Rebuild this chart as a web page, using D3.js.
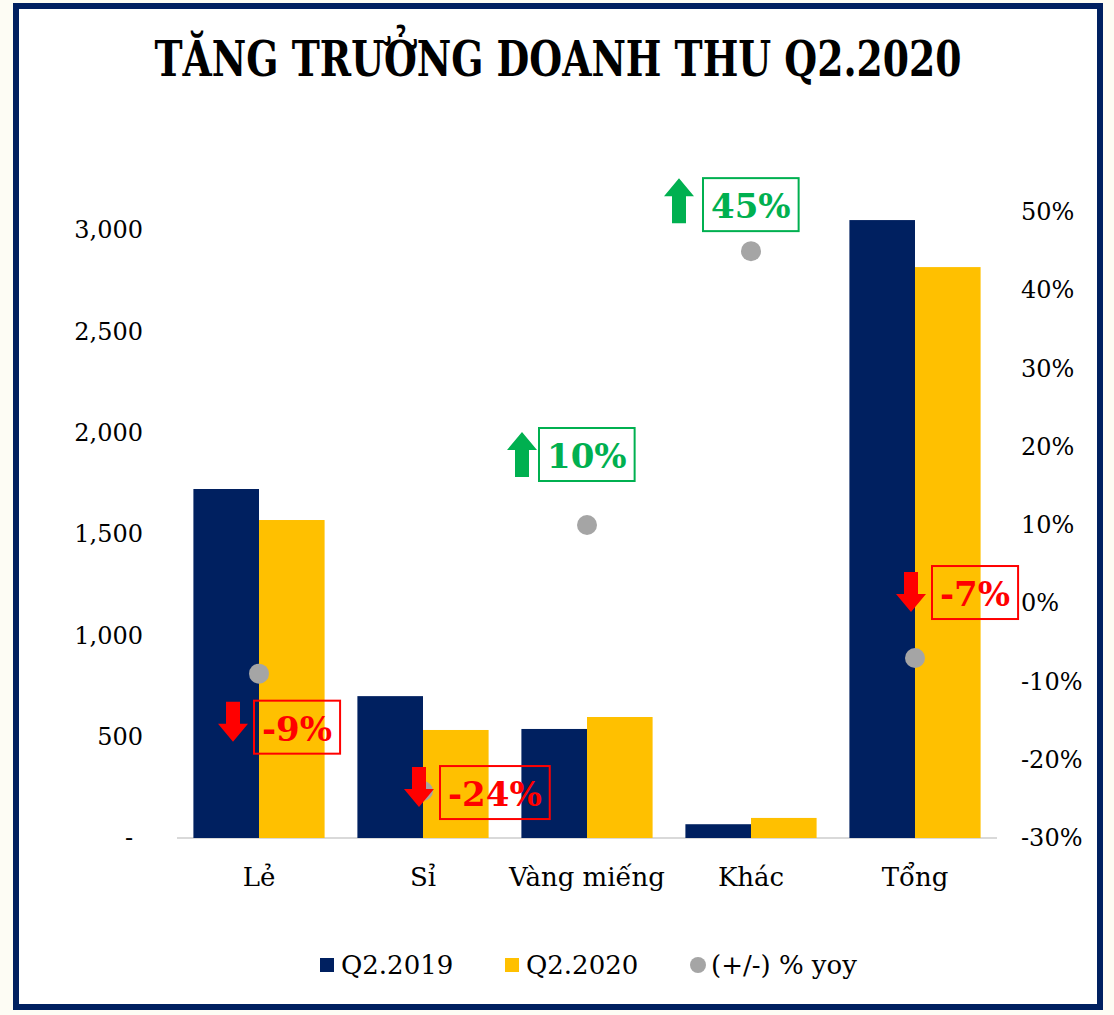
<!DOCTYPE html>
<html>
<head>
<meta charset="utf-8">
<script src="https://cdn.jsdelivr.net/npm/d3@7"></script>
<style>
  html, body { margin: 0; padding: 0; background: #fdfcf4; }
  svg { display: block; }
</style>
</head>
<body>
<div id="root"></div>
<script>
// data
const categories = ["Lẻ", "Sỉ", "Vàng miếng", "Khác", "Tổng"];
const seriesNames = ["Q2.2019", "Q2.2020"];
const q2019 = [1722, 700, 538, 68, 3049];
const q2020 = [1569, 533, 597, 99, 2817];
const yoy = [-0.09, -0.24, 0.10, 0.45, -0.07];
const leftTicks = [0, 500, 1000, 1500, 2000, 2500, 3000];
const rightTicks = [-0.3, -0.2, -0.1, 0, 0.1, 0.2, 0.3, 0.4, 0.5];
const title = "TĂNG TRƯỞNG DOANH THU Q2.2020";
const yoyLabel = "(+/-) % yoy";

// where each callout sits relative to its dot (as placed by hand in the original)
const callouts = [
  { arrowDx: -26, arrowDy: 28, boxDx: -5, boxDy: 27 },
  { arrowDx: -4, arrowDy: -24, boxDx: 17, boxDy: -25 },
  { arrowDx: -65, arrowDy: -93, boxDx: -48, boxDy: -97 },
  { arrowDx: -72, arrowDy: -73, boxDx: -48, boxDy: -73 },
  { arrowDx: -4, arrowDy: -86, boxDx: 17, boxDy: -92 }
];

const width = 1114, height = 1015;
const colors = { navy: "#002060", gold: "#FFC000", dot: "#A5A5A5", up: "#00B050", down: "#FF0000" };
const font = "'DejaVu Serif', serif";

// plain hyphen for negatives, like the original
const locale = d3.formatLocale({ decimal: ".", thousands: ",", grouping: [3], currency: ["", ""], minus: "-", percent: "%" });
const pct = locale.format(".0%");
const num = locale.format(",");

const svg = d3.select("#root").append("svg")
  .attr("width", width)
  .attr("height", height)
  .attr("viewBox", [0, 0, width, height]);

// frame
svg.append("rect")
  .attr("x", 16).attr("y", 6)
  .attr("width", 1084).attr("height", 1001)
  .attr("fill", "#ffffff")
  .attr("stroke", colors.navy)
  .attr("stroke-width", 6);

// title
svg.append("text")
  .attr("x", 558).attr("y", 76)
  .attr("text-anchor", "middle")
  .attr("font-family", "'DejaVu Serif Condensed', 'DejaVu Serif', serif")
  .attr("font-weight", "bold")
  .attr("font-size", 49)
  .attr("textLength", 807)
  .attr("lengthAdjust", "spacingAndGlyphs")
  .text(title);

// scales
const plot = { left: 177, right: 997, base: 838 };

const x0 = d3.scaleBand()
  .domain(categories)
  .range([plot.left, plot.right])
  .paddingInner(0.2)
  .paddingOuter(0.1);

const x1 = d3.scaleBand()
  .domain(seriesNames)
  .range([0, x0.bandwidth()]);

const yLeft = d3.scaleLinear().domain([0, 3000]).range([plot.base, 230]);
const yRight = d3.scaleLinear().domain([-0.3, 0.5]).range([plot.base, 212]);

// left axis
const leftAxis = svg.append("g")
  .attr("transform", `translate(${143}, 0)`)
  .call(d3.axisLeft(yLeft).tickValues(leftTicks).tickSize(0).tickPadding(0)
    .tickFormat(d => d === 0 ? "-" : num(d)));
leftAxis.select(".domain").remove();
leftAxis.selectAll("text")
  .attr("font-family", font).attr("font-size", 24).attr("fill", "#000")
  .attr("dx", d => d === 0 ? -10 : 0);

// right axis
const rightAxis = svg.append("g")
  .attr("transform", `translate(${1021}, 0)`)
  .call(d3.axisRight(yRight).tickValues(rightTicks).tickSize(0).tickPadding(0)
    .tickFormat(pct));
rightAxis.select(".domain").remove();
rightAxis.selectAll("text")
  .attr("font-family", font).attr("font-size", 24).attr("fill", "#000");

// baseline
svg.append("line")
  .attr("x1", plot.left).attr("x2", plot.right)
  .attr("y1", plot.base).attr("y2", plot.base)
  .attr("stroke", "#d9d9d9").attr("stroke-width", 2);

// bars
const rows = categories.map((c, i) => ({ cat: c, values: [q2019[i], q2020[i]], yoy: yoy[i], i }));
const groups = svg.append("g").selectAll("g")
  .data(rows)
  .join("g")
  .attr("transform", d => `translate(${x0(d.cat)}, 0)`);

groups.selectAll("rect")
  .data(d => d.values.map((v, k) => ({ name: seriesNames[k], value: v })))
  .join("rect")
  .attr("x", d => x1(d.name))
  .attr("y", d => yLeft(d.value))
  .attr("width", x1.bandwidth())
  .attr("height", d => plot.base - yLeft(d.value))
  .attr("fill", d => d.name === seriesNames[0] ? colors.navy : colors.gold);

// category labels
const xAxis = svg.append("g")
  .attr("transform", `translate(0, ${plot.base})`)
  .call(d3.axisBottom(x0).tickSize(0).tickPadding(30));
xAxis.select(".domain").remove();
xAxis.selectAll("text")
  .attr("font-family", font).attr("font-size", 26).attr("fill", "#000");

// yoy dots
const dotX = d => x0(d.cat) + x0.bandwidth() / 2;
svg.append("g").selectAll("circle")
  .data(rows)
  .join("circle")
  .attr("cx", dotX)
  .attr("cy", d => yRight(d.yoy))
  .attr("r", 10)
  .attr("fill", colors.dot);

// callouts: block arrow + boxed percentage
const arrowPath = (up, h) => {
  const sw = 7, hw = 15, hh = 18;
  if (up) {
    return `M0,0 L${hw},${hh} L${sw},${hh} L${sw},${h} L${-sw},${h} L${-sw},${hh} L${-hw},${hh} Z`;
  }
  return `M${-sw},0 L${sw},0 L${sw},${h - hh} L${hw},${h - hh} L0,${h} L${-hw},${h - hh} L${-sw},${h - hh} Z`;
};

const callG = svg.append("g").selectAll("g")
  .data(rows)
  .join("g")
  .attr("transform", d => `translate(${dotX(d)}, ${yRight(d.yoy)})`);

callG.append("path")
  .attr("transform", d => `translate(${callouts[d.i].arrowDx}, ${callouts[d.i].arrowDy})`)
  .attr("d", d => arrowPath(d.yoy > 0, d.yoy > 0 ? 45 : 40))
  .attr("fill", d => d.yoy > 0 ? colors.up : colors.down);

callG.each(function (d) {
  const g = d3.select(this);
  const c = callouts[d.i];
  const col = d.yoy > 0 ? colors.up : colors.down;
  const box = g.append("rect")
    .attr("x", c.boxDx).attr("y", c.boxDy)
    .attr("height", 53)
    .attr("fill", "none")
    .attr("stroke", col)
    .attr("stroke-width", 2);
  const t = g.append("text")
    .attr("y", c.boxDy + 40)
    .attr("font-family", font)
    .attr("font-weight", "bold")
    .attr("font-size", 34)
    .attr("fill", col)
    .text(pct(d.yoy));
  const w = t.node().getComputedTextLength();
  box.attr("width", w + 16);
  t.attr("x", c.boxDx + 8);
});

// legend
const legend = svg.append("g").attr("transform", "translate(0, 965)");
const legendItems = [
  { label: seriesNames[0], color: colors.navy, shape: "rect", x: 320 },
  { label: seriesNames[1], color: colors.gold, shape: "rect", x: 505 },
  { label: yoyLabel, color: colors.dot, shape: "circle", x: 690 }
];
legendItems.forEach(it => {
  if (it.shape === "rect") {
    legend.append("rect").attr("x", it.x).attr("y", -7).attr("width", 14).attr("height", 14).attr("fill", it.color);
  } else {
    legend.append("circle").attr("cx", it.x + 8).attr("cy", 0).attr("r", 8).attr("fill", it.color);
  }
  legend.append("text")
    .attr("x", it.x + 21).attr("y", 9)
    .attr("font-family", font).attr("font-size", 26).attr("fill", "#000")
    .text(it.label);
});
</script>
</body>
</html>
